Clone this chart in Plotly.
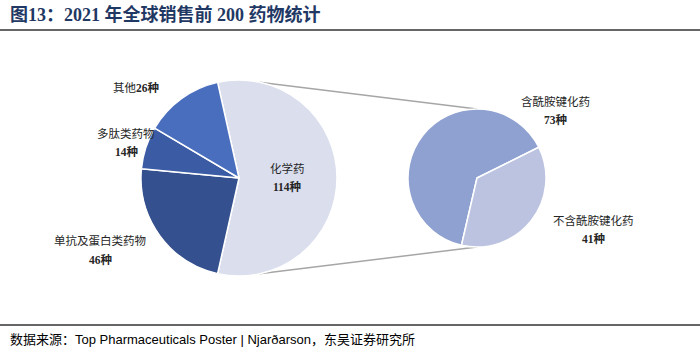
import math
import plotly.graph_objects as go

W, H = 700, 353

# Data
main_labels = ["化学药", "单抗及蛋白类药物", "多肽类药物", "其他"]
main_values = [114, 46, 14, 26]
main_colors = ["#DADEED", "#34508E", "#3B5BA5", "#4A6EBE"]

sub_labels = ["含酰胺键化药", "不含酰胺键化药"]
sub_values = [73, 41]
sub_colors = ["#8FA1D0", "#BBC3E0"]

title_text = "图13：2021 年全球销售前 200 药物统计"
source_text = "数据来源：Top Pharmaceuticals Poster | Njarðarson，东吴证券研究所"

# geometry (pixels)
L_CX, L_CY, L_R = 239, 178, 98
R_CX, R_CY, R_R = 477, 178, 69


def dom(cx, cy, r):
    return dict(x=[(cx - r) / W, (cx + r) / W], y=[1 - (cy + r) / H, 1 - (cy - r) / H])


fig = go.Figure()
fig.add_trace(go.Pie(
    labels=main_labels, values=main_values, sort=False, direction="clockwise",
    rotation=-12.6, marker=dict(colors=main_colors, line=dict(color="white", width=1.5)),
    textinfo="none", hoverinfo="label+value", domain=dom(L_CX, L_CY, L_R), showlegend=False,
))
fig.add_trace(go.Pie(
    labels=sub_labels, values=sub_values, sort=False, direction="clockwise",
    rotation=193, marker=dict(colors=sub_colors, line=dict(color="white", width=1.5)),
    textinfo="none", hoverinfo="label+value", domain=dom(R_CX, R_CY, R_R), showlegend=False,
))

shapes = []
# title and footer rules
shapes.append(dict(type="line", xref="paper", yref="paper", x0=0, x1=1,
                   y0=1 - 30 / H, y1=1 - 30 / H, line=dict(color="#333333", width=1.5)))
shapes.append(dict(type="line", xref="paper", yref="paper", x0=0, x1=1,
                   y0=1 - 325 / H, y1=1 - 325 / H, line=dict(color="#333333", width=1.5)))

# connector lines from left pie to right pie
a = math.radians(12)
top_l = (L_CX + L_R * math.sin(a), L_CY - L_R * math.cos(a))
bot_l = (L_CX + L_R * math.sin(a), L_CY + L_R * math.cos(a))
top_r = (R_CX, R_CY - R_R)
bot_r = (R_CX, R_CY + R_R)
for p0, p1 in [(top_l, top_r), (bot_l, bot_r)]:
    shapes.append(dict(type="line", xref="paper", yref="paper",
                       x0=p0[0] / W, y0=1 - p0[1] / H, x1=p1[0] / W, y1=1 - p1[1] / H,
                       line=dict(color="#A6A6A6", width=1.5), layer="below"))

ann = []
lab_font = dict(family="Liberation Serif, Noto Sans CJK SC", size=11.5, color="#262626")


def add_label(x, y, txt):
    ann.append(dict(x=x / W, y=1 - y / H, xref="paper", yref="paper", text=txt,
                    showarrow=False, font=lab_font, xanchor="center", yanchor="middle"))


add_label(136, 88, f"其他<b>{main_values[3]}种</b>")
add_label(126, 133, main_labels[2])
add_label(126, 151, f"<b>{main_values[2]}种</b>")
add_label(100, 241, main_labels[1])
add_label(100, 259, f"<b>{main_values[1]}种</b>")
add_label(287, 168, main_labels[0])
add_label(287, 186, f"<b>{main_values[0]}种</b>")
add_label(555, 101, sub_labels[0])
add_label(555, 119, f"<b>{sub_values[0]}种</b>")
add_label(593, 220, sub_labels[1])
add_label(593, 238, f"<b>{sub_values[1]}种</b>")

ann.append(dict(x=8 / W, y=1 - 14 / H, xref="paper", yref="paper", text=f"<b>{title_text}</b>",
                showarrow=False, xanchor="left", yanchor="middle",
                font=dict(family="Liberation Serif, Noto Sans CJK SC", size=18, color="#1F3864")))
ann.append(dict(x=8 / W, y=1 - 339 / H, xref="paper", yref="paper", text=source_text,
                showarrow=False, xanchor="left", yanchor="middle",
                font=dict(family="Liberation Sans, Arial, Noto Sans CJK SC", size=13, color="#000000")))

fig.update_layout(width=W, height=H, margin=dict(l=0, r=0, t=0, b=0),
                  paper_bgcolor="white", plot_bgcolor="white",
                  shapes=shapes, annotations=ann)

fig.write_html("out.html")
